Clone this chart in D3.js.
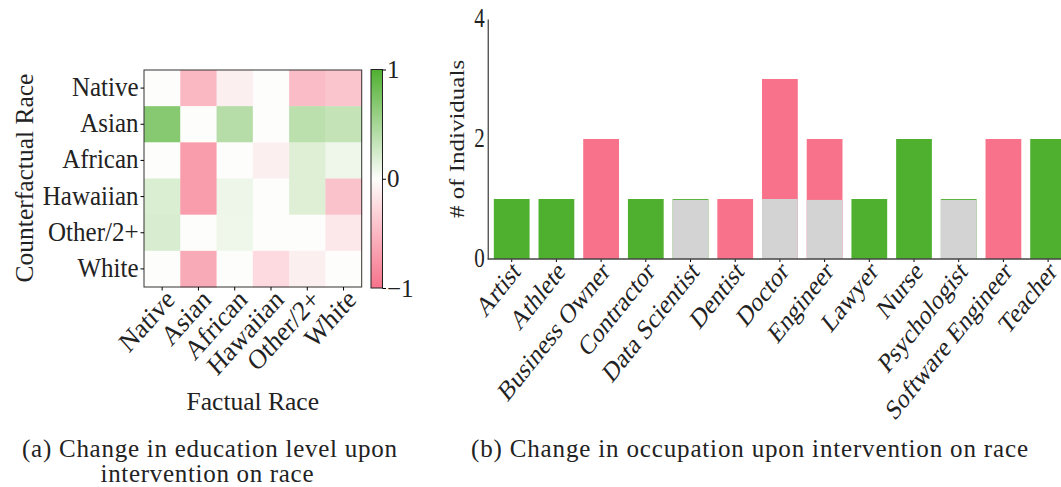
<!DOCTYPE html>
<html>
<head>
  <meta charset="utf-8">
  <script src="https://d3js.org/d3.v7.min.js"></script>
  <style>
    body { margin:0; background:#fff; }
    text { font-family:"Liberation Serif", serif; fill:#222; }
  </style>
</head>
<body>
<script>
// ---- data (a): change in education level, rows = counterfactual, cols = factual
var races = ["Native", "Asian", "African", "Hawaiian", "Other/2+", "White"];
var rowNative   = [0.00, -0.50, -0.10,  0.00, -0.47, -0.40];
var rowAsian    = [0.68,  0.00,  0.41,  0.00,  0.38,  0.33];
var rowAfrican  = [0.00, -0.70,  0.00, -0.10,  0.18,  0.08];
var rowHawaiian = [0.20, -0.70,  0.09,  0.00,  0.18, -0.42];
var rowOther    = [0.21,  0.00,  0.08,  0.00,  0.00, -0.15];
var rowWhite    = [0.00, -0.60,  0.00, -0.25, -0.10,  0.00];
var heatRows = [rowNative, rowAsian, rowAfrican, rowHawaiian, rowOther, rowWhite];
var colorbarTicks = [1, 0, -1];

// ---- data (b): change in occupation
var occupations = ["Artist", "Athlete", "Business Owner", "Contractor", "Data Scientist",
  "Dentist", "Doctor", "Engineer", "Lawyer", "Nurse", "Psychologist", "Software Engineer", "Teacher"];
var greenCounts = [1, 1, 0, 1, 1, 0, 0, 0, 1, 2, 1, 0, 2];
var redCounts   = [0, 0, 2, 0, 0, 1, 3, 2, 0, 0, 0, 2, 0];
var grayCounts  = [0, 0, 0, 0, 0.985, 0, 1, 0.985, 0, 0, 0.985, 0, 0];
var yTicks = [0, 2, 4];

var GREEN = "#4fb030", RED = "#f7728a", GRAY = "#d3d3d3";
var STRETCH_A = 1.12;  // both panels were scaled a bit taller than wide
var STRETCH_B = 1.25;

var svg = d3.select("body").append("svg")
  .attr("width", 1061)
  .attr("height", 487);

// ================= heatmap =================
var hx = d3.scaleBand().domain(races).range([144, 361.7]);
var hy = d3.scaleBand().domain(races).range([70, 287]);
var hcolor = d3.scaleLinear().domain([-1, 0, 1]).range([RED, "#fdfdfb", GREEN]);

var cells = [];
heatRows.forEach(function(row, i) {
  row.forEach(function(v, j) { cells.push({r: races[i], c: races[j], v: v}); });
});

svg.append("g").selectAll("rect")
  .data(cells).enter().append("rect")
  .attr("x", function(d) { return hx(d.c); })
  .attr("y", function(d) { return hy(d.r); })
  .attr("width", hx.bandwidth() + 0.5)
  .attr("height", hy.bandwidth() + 0.5)
  .attr("fill", function(d) { return hcolor(d.v); });

svg.append("rect")
  .attr("x", 144).attr("y", 70).attr("width", 217.7).attr("height", 217)
  .attr("fill", "none").attr("stroke", "#333").attr("stroke-width", 1);

// y axis of heatmap
var hyAxis = svg.append("g").attr("transform", "translate(144,0)")
  .call(d3.axisLeft(hy).tickSize(3.5).tickPadding(2));
hyAxis.select(".domain").remove();
hyAxis.selectAll("text").attr("font-size", "25px").attr("fill", "#222")
  .style("font-family", "Liberation Serif")
  .attr("dy", null).attr("transform", "translate(0,8) scale(1," + STRETCH_A + ")");

// x axis of heatmap
var hxAxis = svg.append("g").attr("transform", "translate(0,287)")
  .call(d3.axisBottom(hx).tickSize(3.5));
hxAxis.select(".domain").remove();
hxAxis.selectAll("text")
  .attr("font-size", "25px").attr("fill", "#222")
  .style("font-family", "Liberation Serif")
  .attr("text-anchor", "end")
  .attr("dy", null).attr("y", null)
  .attr("transform", "translate(14,14) scale(1," + STRETCH_A + ") rotate(-45)");

svg.append("text").text("Factual Race")
  .attr("x", 252.8).attr("y", 410)
  .attr("text-anchor", "middle").attr("font-size", "25.5px");

svg.append("text").text("Counterfactual Race")
  .attr("transform", "translate(33,178) rotate(-90)")
  .attr("text-anchor", "middle").attr("font-size", "25.5px");

// colorbar
var defs = svg.append("defs");
var grad = defs.append("linearGradient").attr("id", "cbar")
  .attr("x1", 0).attr("y1", 1).attr("x2", 0).attr("y2", 0);
d3.range(0, 1.0001, 0.1).forEach(function(t) {
  grad.append("stop").attr("offset", t).attr("stop-color", hcolor(t * 2 - 1));
});
var cy = d3.scaleLinear().domain([-1, 1]).range([288, 69.5]);
svg.append("rect")
  .attr("x", 371).attr("y", 69.5).attr("width", 11.5).attr("height", 218.5)
  .attr("fill", "url(#cbar)").attr("stroke", "#222").attr("stroke-width", 1);
var cAxis = svg.append("g").attr("transform", "translate(382.5,0)")
  .call(d3.axisRight(cy).tickValues(colorbarTicks).tickSize(3.5).tickPadding(1)
    .tickFormat(function(d) { return d < 0 ? "\u2212" + Math.abs(d) : d; }));
cAxis.select(".domain").remove();
cAxis.selectAll("text").attr("font-size", "25px").attr("fill", "#222")
  .style("font-family", "Liberation Serif");

// ================= bar chart =================
var bx = d3.scaleBand().domain(occupations)
  .range([487.7, 487.7 + 44.7 * (13 - 0.2 + 2 * 0.137)])
  .paddingInner(0.2).paddingOuter(0.137);
var by = d3.scaleLinear().domain([0, 4]).range([259, 19]);

function drawBars(values, color) {
  svg.append("g").selectAll("rect")
    .data(occupations.map(function(o, i) { return {o: o, v: values[i]}; })
      .filter(function(d) { return d.v > 0; }))
    .enter().append("rect")
    .attr("x", function(d) { return bx(d.o); })
    .attr("y", function(d) { return by(d.v); })
    .attr("width", bx.bandwidth())
    .attr("height", function(d) { return by(0) - by(d.v); })
    .attr("fill", color);
}
drawBars(greenCounts, GREEN);
drawBars(redCounts, RED);
drawBars(grayCounts, GRAY);

var byAxis = svg.append("g").attr("transform", "translate(487.7,0)")
  .call(d3.axisLeft(by).tickValues(yTicks).tickSize(0).tickPadding(3)
    .tickFormat(d3.format("d")));
byAxis.select(".domain").attr("stroke", "#111");
byAxis.selectAll("text").attr("font-size", "21px").attr("fill", "#222")
  .style("font-family", "Liberation Serif")
  .attr("dy", null)
  .attr("transform", "translate(0,7) scale(1," + STRETCH_B + ")");

var bxAxis = svg.append("g").attr("transform", "translate(0,259)")
  .call(d3.axisBottom(bx).tickSize(3));
bxAxis.select(".domain").remove();
bxAxis.selectAll("text")
  .attr("font-size", "22.5px").attr("fill", "#222")
  .style("font-family", "Liberation Serif")
  .attr("text-anchor", "end")
  .attr("dy", null).attr("y", null)
  .attr("transform", "translate(10,14) scale(1," + STRETCH_B + ") rotate(-45)");

svg.append("line")
  .attr("x1", 487.7).attr("x2", 1061).attr("y1", 259).attr("y2", 259)
  .attr("stroke", "#444").attr("stroke-opacity", 0.75).attr("stroke-width", 2);

svg.append("text").text("# of Individuals")
  .attr("transform", "translate(464,139) scale(1," + STRETCH_B + ") rotate(-90)")
  .attr("text-anchor", "middle").attr("font-size", "20px");

// ================= captions =================
svg.append("text").text("(a) Change in education level upon")
  .attr("x", 209.5).attr("y", 457).attr("text-anchor", "middle").attr("font-size", "25px")
  .attr("textLength", 375).attr("lengthAdjust", "spacing");
svg.append("text").text("intervention on race")
  .attr("x", 207).attr("y", 481.5).attr("text-anchor", "middle").attr("font-size", "25px")
  .attr("textLength", 213).attr("lengthAdjust", "spacing");
svg.append("text").text("(b) Change in occupation upon intervention on race")
  .attr("x", 749.5).attr("y", 457).attr("text-anchor", "middle").attr("font-size", "25px")
  .attr("textLength", 557).attr("lengthAdjust", "spacing");
</script>
</body>
</html>
